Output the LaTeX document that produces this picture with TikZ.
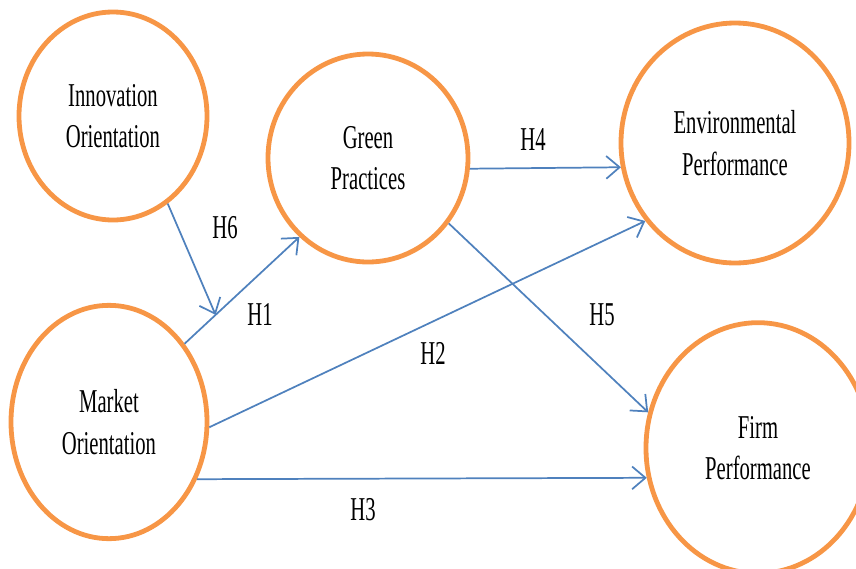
\documentclass[tikz,border=0pt]{standalone}
\usepackage{fontspec}
\setmainfont[FakeStretch=0.62]{Liberation Serif}
\usetikzlibrary{shapes.geometric,arrows.meta}
\definecolor{ringorange}{HTML}{F79646}
\definecolor{linkblue}{HTML}{4F81BD}
\tikzset{
    construct/.style={ellipse,draw=ringorange,line width=3.6pt,inner sep=0pt,align=center},
    link/.style={draw=linkblue,line width=1.3pt,-{Straight Barb[length=10pt,width=17pt]}}
}
\begin{document}
\begin{tikzpicture}[x=0.75pt,y=-0.75pt,every node/.style={font=\fontsize{25}{31}\selectfont}]
    \useasboundingbox (0,0) rectangle (856,568);
    \clip (0,0) rectangle (856,568);
    % constructs
    \node[construct,minimum width=141pt,minimum height=156pt] (io) at (113,116) {Innovation\\Orientation};
    \node[construct,minimum width=147pt,minimum height=175pt] (mo) at (109,422) {Market\\Orientation};
    \node[construct,minimum width=150pt,minimum height=156pt] (gp) at (368,158) {Green\\Practices};
    \node[construct,minimum width=171pt,minimum height=180pt] (ep) at (735,143) {Environmental\\Performance};
    \node[construct,minimum width=168pt,minimum height=188pt] (fp) at (758,448) {Firm\\Performance};
    % hypotheses
    \draw[link] (mo.46) -- coordinate[pos=0.27] (meet) (gp.229);
    \draw[link] (io.-58) -- (meet);
    \draw[link] (gp.-6) -- (ep.192);
    \draw[link] (mo.-3) -- (ep.221);
    \draw[link] (gp.-39) -- (fp.162);
    \draw[link] (mo.-33) -- (fp.195);
    \node (h1) at (260,314) {H1};
    \node (h2) at (433,353) {H2};
    \node (h3) at (363,510) {H3};
    \node (h4) at (533,140) {H4};
    \node (h5) at (602,315) {H5};
    \node (h6) at (225,228) {H6};
\end{tikzpicture}
\end{document}
